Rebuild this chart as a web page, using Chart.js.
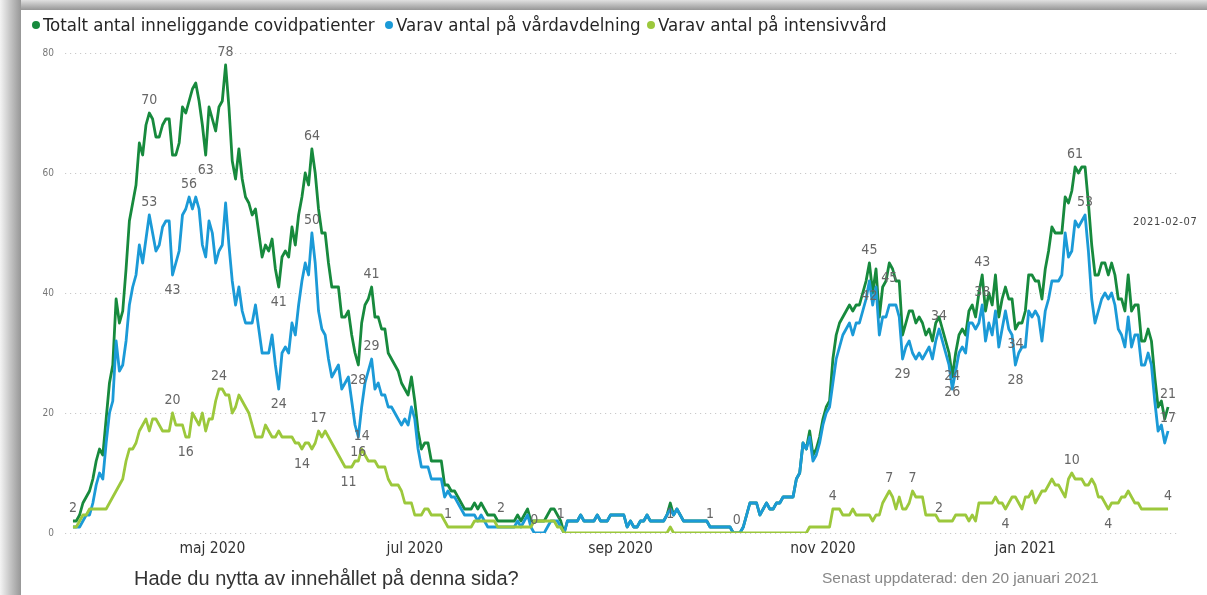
<!DOCTYPE html>
<html>
<head>
<meta charset="utf-8">
<script src="https://cdn.jsdelivr.net/npm/chart.js@4.4.0/dist/chart.umd.min.js"></script>
<style>
    html, body { margin: 0; padding: 0; background: #fff; }
    #frame { position: relative; width: 1207px; height: 595px; overflow: hidden; background: #fff; }
    #shadowTop { position: absolute; left: 0; top: 0; width: 1207px; height: 10px; background: linear-gradient(#e0e0e0, #969696); }
    #shadowLeft { position: absolute; left: 0; top: 0; width: 21px; height: 595px; background: linear-gradient(90deg, #f4f4f4, #c4c4c4 50%, #979797); }
    #chart { position: absolute; left: 0; top: 0; }
    .lg { position: absolute; top: 13px; height: 24px; line-height: 24px; font-family: 'DejaVu Sans Condensed', sans-serif; font-size: 18.5px; color: #262626; white-space: nowrap; }
    .lg i { display: inline-block; width: 8px; height: 8px; border-radius: 50%; margin-right: 3px; vertical-align: 2px; }
    #question { position: absolute; left: 134px; top: 567px; font-family: 'Liberation Sans', Arial, sans-serif; font-size: 20px; color: #333; }
    #updated { position: absolute; left: 822px; top: 569px; font-family: 'Liberation Sans', Arial, sans-serif; font-size: 15.5px; color: #888; }
    #lastDate { position: absolute; left: 1133px; top: 215px; font-family: 'DejaVu Sans Condensed', sans-serif; font-size: 11px; letter-spacing: 0.7px; color: #444; }
</style>
</head>
<body>
<div id="frame">
    <div id="shadowTop"></div>
    <div id="shadowLeft"></div>
    <canvas id="chart" width="1207" height="595"></canvas>
    <div id="legend"></div>
    <div id="lastDate">2021-02-07</div>
    <div id="question">Hade du nytta av innehållet på denna sida?</div>
    <div id="updated">Senast uppdaterad: den 20 januari 2021</div>
</div>
<script>
// first day of the daily series
const START_DATE = '2020-03-20';

const seriesNames = [
    'Totalt antal inneliggande covidpatienter',
    'Varav antal på vårdavdelning',
    'Varav antal på intensivvård'
];
const seriesColors = ['#178a3d', '#1b9ad7', '#9cc83c'];

// daily values, one per day from START_DATE
const totalValues = [
    2,2,3,5,6,7,9,12,14,13, 19,25,28,39,35,37,44,52,55,58,
    65,63,68,70,69,66,66,68,69,69, 63,63,65,71,70,72,74,75,72,68,
    63,71,69,67,71,72,78,71,62,59, 64,59,56,55,53,54,50,46,48,47,
    49,44,41,46,47,46,51,48,53,56, 60,58,64,60,54,50,50,45,41,41,
    41,36,36,37,33,30,28,35,38,39, 41,36,36,34,34,30,29,28,27,25,
    24,23,26,22,17,14,15,15,12,12, 12,12,8,8,7,7,6,5,4,4,
    4,5,4,5,4,3,3,3,2,2, 2,2,2,2,3,2,3,4,2,2,
    2,2,2,3,4,4,3,2,0,2, 2,2,2,3,2,2,2,2,3,2,
    2,2,3,3,3,3,3,1,2,1, 1,2,2,3,2,2,2,2,2,3,
    5,3,4,3,2,2,2,2,2,2, 2,2,1,1,1,1,1,1,1,0,
    0,0,1,3,5,5,5,3,4,5, 4,4,5,5,6,6,6,6,9,10,
    15,14,17,13,14,16,19,21,22,29, 33,35,36,37,38,37,38,38,40,42,
    45,40,44,36,41,42,45,44,42,42, 33,35,37,37,35,36,35,33,34,32,
    35,36,34,32,30,26,30,33,34,33, 37,38,36,40,43,37,40,38,43,36,
    39,41,39,39,34,35,35,37,43,43, 42,42,39,44,47,51,50,50,50,56,
    55,57,61,60,61,61,55,48,43,43, 45,45,43,45,43,39,39,37,43,37,
    38,38,32,32,34,32,26,21,22,19,21
];
const wardValues = [
    1,1,1,2,3,3,5,8,10,9, 15,20,22,32,27,28,32,38,41,43,
    48,45,49,53,50,47,48,51,52,52, 43,45,47,53,54,56,54,56,54,48,
    46,52,50,45,47,48,55,48,42,38, 41,37,35,35,35,38,34,30,30,30,
    33,28,24,30,31,30,35,33,38,42, 45,43,50,45,37,34,33,29,26,27,
    28,24,25,26,22,18,16,21,25,27, 29,24,25,23,23,21,21,20,19,18,
    19,18,21,19,14,11,11,11,9,9, 9,9,6,7,6,6,5,4,3,3,
    3,3,2,3,2,1,1,1,1,1, 1,1,1,1,2,1,2,3,1,0,
    0,0,0,1,2,2,2,1,0,2, 2,2,2,3,2,2,2,2,3,2,
    2,2,3,3,3,3,3,1,2,1, 1,2,2,3,2,2,2,2,2,3,
    4,3,4,3,2,2,2,2,2,2, 2,2,1,1,1,1,1,1,1,0,
    0,0,1,3,5,5,5,3,4,5, 4,4,5,5,6,6,6,6,9,10,
    15,14,16,12,13,15,18,20,21,25, 29,31,33,34,35,33,35,35,37,39,
    42,38,41,33,36,36,38,38,38,36, 29,31,32,30,29,30,29,30,31,29,
    32,34,32,30,28,24,27,30,31,30, 35,35,34,35,38,32,35,33,37,31,
    34,37,34,33,28,30,31,31,37,36, 37,36,32,37,39,42,42,42,43,50,
    46,47,52,51,52,53,47,39,35,37, 39,40,39,40,38,34,33,31,36,31,
    33,33,28,28,30,28,22,17,18,15,17
];
const icuValues = [
    1,1,2,3,3,4,4,4,4,4, 4,5,6,7,8,9,12,14,14,15,
    17,18,19,17,19,19,18,17,17,17, 20,18,18,18,16,16,20,19,18,20,
    17,19,19,22,24,24,23,23,20,21, 23,22,21,20,18,16,16,16,18,17,
    16,16,17,16,16,16,16,15,15,14, 15,15,14,15,17,16,17,16,15,14,
    13,12,11,11,11,12,12,14,13,12, 12,12,11,11,11,9,8,8,8,7,
    5,5,5,3,3,3,4,4,3,3, 3,3,2,1,1,1,1,1,1,1,
    1,2,2,2,2,2,2,2,1,1, 1,1,1,1,1,1,1,1,1,2,
    2,2,2,2,2,2,1,1,0,0, 0,0,0,0,0,0,0,0,0,0,
    0,0,0,0,0,0,0,0,0,0, 0,0,0,0,0,0,0,0,0,0,
    1,0,0,0,0,0,0,0,0,0, 0,0,0,0,0,0,0,0,0,0,
    0,0,0,0,0,0,0,0,0,0, 0,0,0,0,0,0,0,0,0,0,
    0,0,1,1,1,1,1,1,1,4, 4,4,3,3,3,4,3,3,3,3,
    3,2,3,3,5,6,7,6,4,6, 4,4,5,7,6,6,6,3,3,3,
    3,2,2,2,2,2,3,3,3,3, 2,3,2,5,5,5,5,5,6,5,
    5,4,5,6,6,5,4,6,6,7, 5,6,7,7,8,9,8,8,7,6,
    9,10,9,9,9,8,8,9,8,6, 6,5,4,5,5,5,6,6,7,6,
    5,5,4,4,4,4,4,4,4,4,4
];

// axis ticks
const monthTicks = ['2020-05-01', '2020-07-01', '2020-09-01', '2020-11-01', '2021-01-01'];
const monthLabels = ['maj 2020', 'jul 2020', 'sep 2020', 'nov 2020', 'jan 2021'];
const yTicks = [0, 20, 40, 60, 80];

// which days carry a value label (above / below the line)
const totalLabelsUp = [0, 23, 46, 72, 90, 129, 240, 274, 302, 330];
const totalLabelsDown = [40, 62, 86, 246, 265, 284];
const wardLabelsUp = [23, 35, 72, 90, 139, 147, 192, 200, 261, 265, 274, 305, 330];
const wardLabelsDown = [30, 62, 86, 240, 250, 284];
const icuLabelsUp = [30, 44, 74, 87, 113, 180, 229, 246, 253, 261, 301, 330];
const icuLabelsDown = [34, 69, 83, 281, 312];

const seriesValues = [totalValues, wardValues, icuValues];
const labelsUp = [totalLabelsUp, wardLabelsUp, icuLabelsUp];
const labelsDown = [totalLabelsDown, wardLabelsDown, icuLabelsDown];

function dayIndex(dateStr) {
    return Math.round((Date.parse(dateStr) - Date.parse(START_DATE)) / 86400000);
}

// Legend (html, dot + text)
const legendLeft = [32, 385, 647];
const legendEl = document.getElementById('legend');
seriesNames.forEach((name, i) => {
    const item = document.createElement('div');
    item.className = 'lg';
    item.style.left = legendLeft[i] + 'px';
    item.innerHTML = '<i style="background:' + seriesColors[i] + '"></i>' + name;
    legendEl.appendChild(item);
});

// Draws the value labels next to selected points
const valueLabels = {
    id: 'valueLabels',
    afterDatasetsDraw(chart) {
        const ctx = chart.ctx;
        ctx.save();
        ctx.font = "14px 'DejaVu Sans Condensed'";
        ctx.fillStyle = '#666';
        ctx.textAlign = 'center';
        ctx.textBaseline = 'middle';
        seriesValues.forEach((values, s) => {
            const meta = chart.getDatasetMeta(s);
            labelsUp[s].forEach(i => {
                const pt = meta.data[i];
                ctx.fillText(String(values[i]), pt.x, pt.y - 13);
            });
            labelsDown[s].forEach(i => {
                const pt = meta.data[i];
                ctx.fillText(String(values[i]), pt.x, pt.y + 15);
            });
        });
        ctx.restore();
    }
};

const tickDays = monthTicks.map(dayIndex);

new Chart(document.getElementById('chart'), {
    type: 'line',
    data: {
        datasets: seriesValues.map((values, s) => ({
            label: seriesNames[s],
            data: values.map((v, i) => ({ x: i, y: v })),
            borderColor: seriesColors[s],
            backgroundColor: seriesColors[s],
            borderWidth: 2.8,
            borderJoinStyle: 'round',
            pointRadius: 0,
            tension: 0,
            order: 3 - s
        }))
    },
    options: {
        responsive: false,
        animation: false,
        devicePixelRatio: 1,
        layout: { padding: { left: 30, right: 30, top: 53, bottom: 32 } },
        plugins: {
            legend: { display: false },
            tooltip: { enabled: false }
        },
        scales: {
            x: {
                type: 'linear',
                min: -2.4,
                max: 332.7,
                afterFit: scale => { scale.height = 30; },
                afterBuildTicks: scale => { scale.ticks = tickDays.map(d => ({ value: d })); },
                grid: { display: false, drawTicks: false },
                border: { display: false },
                ticks: {
                    autoSkip: false,
                    maxRotation: 0,
                    padding: 7,
                    color: '#333',
                    font: { family: "'DejaVu Sans Condensed'", size: 15.5 },
                    callback: v => monthLabels[tickDays.indexOf(v)]
                }
            },
            y: {
                min: 0,
                max: 80,
                afterFit: scale => { scale.width = 35; },
                afterBuildTicks: scale => { scale.ticks = yTicks.map(v => ({ value: v })); },
                grid: { color: '#c9c9c9', lineWidth: 1, drawTicks: false },
                border: { display: false, dash: [1.2, 3.8] },
                ticks: {
                    padding: 11,
                    color: '#777',
                    font: { family: "'DejaVu Sans Condensed'", size: 10 }
                }
            }
        }
    },
    plugins: [valueLabels]
});
</script>
</body>
</html>
